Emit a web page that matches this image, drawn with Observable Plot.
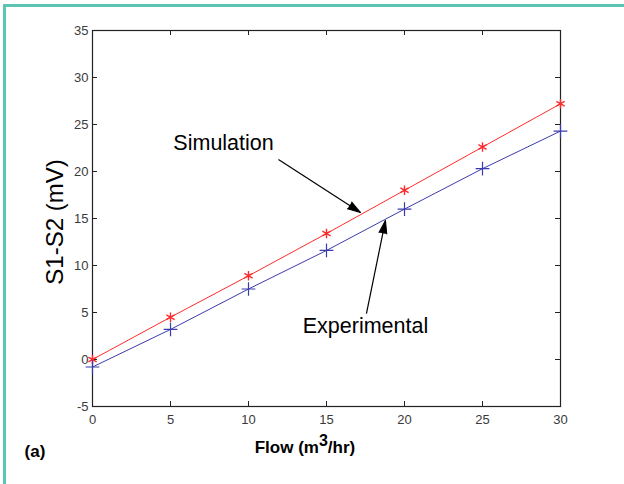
<!DOCTYPE html>
<html><head><meta charset="utf-8">
<script src="https://cdn.jsdelivr.net/npm/d3@7"></script>
<script src="https://cdn.jsdelivr.net/npm/@observablehq/plot@0.6"></script>
<style>
body{margin:0;background:#fff;}
#wrap{position:relative;width:624px;height:484px;overflow:hidden;background:#fff;}
#wrap svg{position:absolute;left:0;top:0;}
#border{position:absolute;left:3px;top:4px;right:-10px;bottom:-10px;border-left:3px solid #5cc4b3;border-top:3px solid #5cc4b3;pointer-events:none;}
</style></head><body><div id="wrap"><div id="border"></div></div>
<script>
// Data
const flow = [0, 5, 10, 15, 20, 25, 30];
const simulation = [0, 4.5, 8.9, 13.4, 18.0, 22.6, 27.2];
const experimental = [-0.8, 3.2, 7.5, 11.6, 16.0, 20.3, 24.3];
const xTicks = [0, 5, 10, 15, 20, 25, 30];
const yTicks = [-5, 0, 5, 10, 15, 20, 25, 30, 35];
const annotationLabels = ["Simulation", "Experimental"];
const annotationX = [8.4, 17.5];
const annotationY = [23.0, 3.6];
const arrowX1 = [11.92, 17.56];
const arrowY1 = [21.28, 4.89];
const arrowX2 = [17.18, 18.78];
const arrowY2 = [15.64, 14.79];

const W = 624, H = 484;
const mL = 92, mR = 64, mT = 30, mB = 78;
const xDomain = [0, 30], yDomain = [-5, 35];

const simData = flow.map((f, i) => ({flow: f, v: simulation[i]}));
const expData = flow.map((f, i) => ({flow: f, v: experimental[i]}));
const notes = annotationLabels.map((t, i) => ({t, x: annotationX[i], y: annotationY[i]}));

const sx = Plot.scale({x: {domain: xDomain, range: [mL, W - mR]}});
const sy = Plot.scale({y: {domain: yDomain, range: [H - mB, mT]}});
const arrows = arrowX1.map((x1, i) => {
  const dx = sx.apply(arrowX2[i]) - sx.apply(x1);
  const dy = sy.apply(arrowY2[i]) - sy.apply(arrowY1[i]);
  return {x1, y1: arrowY1[i], x2: arrowX2[i], y2: arrowY2[i],
          rot: Math.atan2(dx, -dy) * 180 / Math.PI};
});

const plotW = W - mL - mR, plotH = H - mT - mB;
const red = "#ff2b2b", blue = "#3b3bb0";

const chart = Plot.plot({
  width: W, height: H,
  marginLeft: mL, marginRight: mR, marginTop: mT, marginBottom: mB,
  x: {domain: xDomain},
  y: {domain: yDomain},
  style: {fontFamily: "'Liberation Sans', Arial, Helvetica, sans-serif", fontSize: "13px", color: "#3a3a3a", background: "transparent"},
  marks: [
    Plot.frame({stroke: "#222", strokeWidth: 1.2}),
    Plot.ruleX(xTicks, {x: d => d, insetTop: plotH - 5, stroke: "#222"}),
    Plot.ruleX(xTicks, {x: d => d, insetBottom: plotH - 5, stroke: "#222"}),
    Plot.ruleY(yTicks, {y: d => d, insetRight: plotW - 5, stroke: "#222"}),
    Plot.ruleY(yTicks, {y: d => d, insetLeft: plotW - 5, stroke: "#222"}),
    Plot.axisX({ticks: xTicks, tickSize: 0, tickPadding: 8, label: null, tickFormat: d => String(d)}),
    Plot.axisY({ticks: yTicks, tickSize: 0, tickPadding: 4, label: null, tickFormat: d => String(d)}),
    Plot.line(simData, {x: "flow", y: "v", stroke: red, strokeWidth: 1}),
    Plot.line(expData, {x: "flow", y: "v", stroke: blue, strokeWidth: 1}),
    Plot.dot(simData, {x: "flow", y: "v", symbol: "asterisk", r: 4.5, stroke: red, strokeWidth: 1.4}),
    Plot.dot(expData, {x: "flow", y: "v", symbol: "plus", r: 4.5, stroke: blue, strokeWidth: 1.2}),
    Plot.link(arrows, {x1: "x1", y1: "y1", x2: "x2", y2: "y2", stroke: "#000", strokeWidth: 1.2}),
    Plot.vector(arrows, {x: "x2", y: "y2", rotate: "rot", length: 13, r: 4, anchor: "end", shape: "spike", fill: "#000", stroke: "#000", strokeWidth: 1}),
    Plot.text(notes, {x: "x", y: "y", text: "t", fontSize: 21.5, fill: "#000", textAnchor: "middle"})
  ]
});

const wrap = document.getElementById("wrap");
wrap.insertBefore(chart, wrap.firstChild);

const svg = d3.select(chart);
const ff = "'Liberation Sans', Arial, Helvetica, sans-serif";
svg.append("text")
  .attr("transform", `translate(55,222) rotate(-90)`)
  .attr("text-anchor", "middle").attr("dy", "0.35em")
  .attr("font-family", ff).attr("font-size", 24).attr("fill", "#000")
  .text("S1-S2 (mV)");
const xl = svg.append("text")
  .attr("x", 305).attr("y", 453)
  .attr("text-anchor", "middle")
  .attr("font-family", ff).attr("font-size", 17).attr("font-weight", "bold").attr("fill", "#000");
xl.append("tspan").text("Flow (m");
xl.append("tspan").attr("dy", -7).attr("font-size", 16).text("3");
xl.append("tspan").attr("dy", 7).text("/hr)");
svg.append("text")
  .attr("x", 35).attr("y", 457)
  .attr("font-family", ff).attr("font-size", 17).attr("font-weight", "bold").attr("fill", "#000")
  .text("(a)");
</script>
</body></html>
